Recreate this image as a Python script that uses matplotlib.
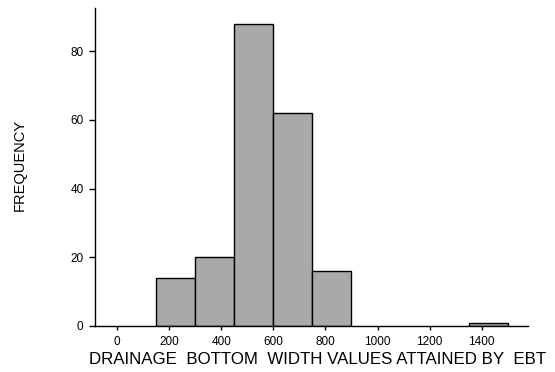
import matplotlib
matplotlib.use("Agg")
import matplotlib.pyplot as plt

plt.rcParams['font.family'] = ['Liberation Sans', 'DejaVu Sans']

# Histogram bins (drainage bottom width) and their frequencies
bin_lefts = [150, 300, 450, 600, 750, 1350]
bin_widths = [150, 150, 150, 150, 150, 150]
frequencies = [14, 20, 88, 62, 16, 1]

x_ticks = [0, 200, 400, 600, 800, 1000, 1200, 1400]
y_ticks = [0, 20, 40, 60, 80]

fig = plt.figure(figsize=(5.55, 3.72), dpi=100)
ax = fig.add_axes([95 / 555, 46 / 372, (528 - 95) / 555, (326 - 8) / 372])

ax.bar(bin_lefts, frequencies, width=bin_widths, align='edge',
       color='#a9a9a9', edgecolor='black', linewidth=1.0)

ax.set_xlim(-85, 1578)
ax.set_ylim(0, 92.6)
ax.set_xticks(x_ticks)
ax.set_yticks(y_ticks)
ax.tick_params(axis='both', labelsize=8.5, width=1, direction='out')
ax.tick_params(axis='x', length=3, pad=4)
ax.tick_params(axis='y', length=4.3, pad=4)

for side in ('top', 'right'):
    ax.spines[side].set_visible(False)
for side in ('left', 'bottom'):
    ax.spines[side].set_linewidth(1.0)

fig.text(318 / 555, 1 - 359 / 372, 'DRAINAGE  BOTTOM  WIDTH VALUES ATTAINED BY  EBT',
         fontsize=12.2, ha='center', va='center')
fig.text(20 / 555, 1 - 165 / 372, 'FREQUENCY', rotation=90, fontsize=10.5,
         ha='center', va='center')

fig.savefig('out.png', dpi=100)
